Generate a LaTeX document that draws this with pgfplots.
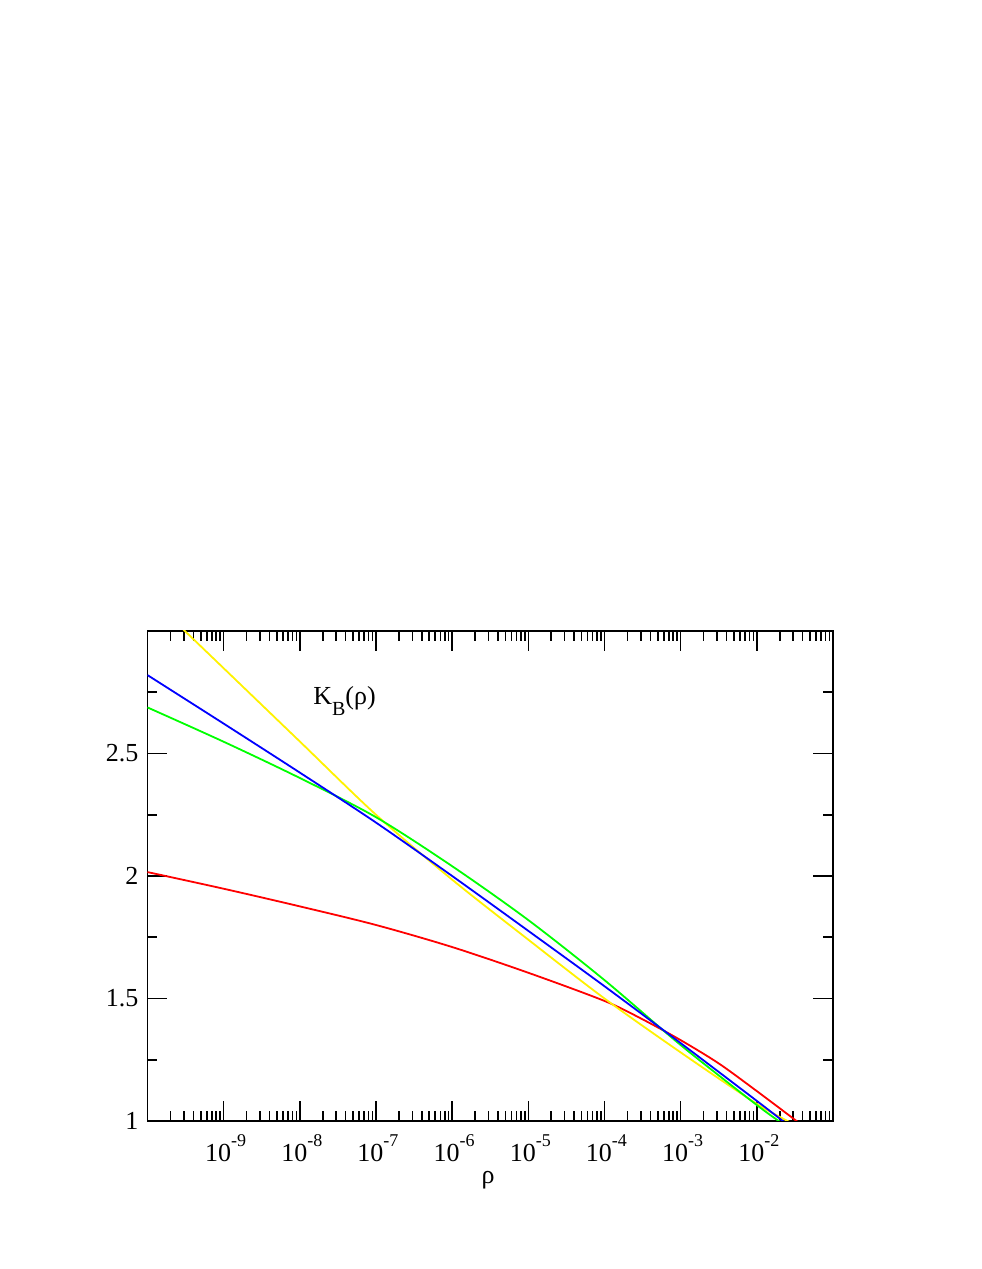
\documentclass[border=0pt]{standalone}
\usepackage{fontspec}
\setmainfont{Liberation Serif}
\usepackage{pgfplots}
\pgfplotsset{compat=1.18}
\newcommand{\dec}[1]{10\raisebox{0.55em}{\fontsize{9}{10}\selectfont #1}}
\begin{document}
\begin{tikzpicture}
\begin{axis}[
  at={(0,0)}, anchor=south west,
  scale only axis,
  width=342.75pt, height=245pt,
  xmode=log,
  xmin=1e-10, xmax=1e-1,
  ymin=1, ymax=3,
  axis line style={line width=0.9pt},
  tick style={line width=0.8pt, black},
  major tick length=10pt,
  minor tick length=5pt,
  tick align=inside,
  xtick={1e-9,1e-8,1e-7,1e-6,1e-5,1e-4,1e-3,1e-2},
  xticklabels={\dec{-9},\dec{-8},\dec{-7},\dec{-6},\dec{-5},\dec{-4},\dec{-3},\dec{-2}},
  minor xtick={2e-10,3e-10,4e-10,5e-10,6e-10,7e-10,8e-10,9e-10,
               2e-9,3e-9,4e-9,5e-9,6e-9,7e-9,8e-9,9e-9,
               2e-8,3e-8,4e-8,5e-8,6e-8,7e-8,8e-8,9e-8,
               2e-7,3e-7,4e-7,5e-7,6e-7,7e-7,8e-7,9e-7,
               2e-6,3e-6,4e-6,5e-6,6e-6,7e-6,8e-6,9e-6,
               2e-5,3e-5,4e-5,5e-5,6e-5,7e-5,8e-5,9e-5,
               2e-4,3e-4,4e-4,5e-4,6e-4,7e-4,8e-4,9e-4,
               2e-3,3e-3,4e-3,5e-3,6e-3,7e-3,8e-3,9e-3,
               2e-2,3e-2,4e-2,5e-2,6e-2,7e-2,8e-2,9e-2},
  ytick={1,1.5,2,2.5,3},
  yticklabels={1,1.5,2,2.5,{}},
  minor ytick={1.25,1.75,2.25,2.75},
  tick label style={font=\fontsize{13}{15}\selectfont},
  xticklabel style={anchor=base, yshift=-20pt, xshift=1pt},
  yticklabel style={xshift=-1pt},
  xlabel={ρ},
  xlabel style={at={(axis description cs:0.497,0)}, anchor=base, yshift=-31pt, font=\fontsize{13}{15}\selectfont},
  every axis plot/.append style={line width=0.9pt, no markers},
  clip=true,
]
\addplot[red, smooth] coordinates {
 (1e-10,2.016) (1e-9,1.948) (1e-8,1.876) (1e-7,1.80) (1e-6,1.71)
 (1e-5,1.605) (1e-4,1.49) (3.162e-4,1.415) (1e-3,1.33) (3.162e-3,1.235) (1e-2,1.122) (3.162e-2,1.005) (3.981e-2,0.98)
};
\addplot[yellow, smooth] coordinates {
 (2.512e-10,3.027) (1e-9,2.848) (1e-8,2.549) (1e-7,2.25) (1e-6,1.985)
 (1e-5,1.74) (1e-4,1.50) (1e-3,1.28) (1e-2,1.07) (3.162e-2,0.985)
};
\addplot[green, smooth] coordinates {
 (1e-10,2.688) (1e-9,2.548) (1e-8,2.40) (1e-7,2.24) (1e-6,2.04)
 (1e-5,1.82) (1e-4,1.575) (1e-3,1.31) (1e-2,1.065) (2.239e-2,0.987)
};
\addplot[blue, smooth] coordinates {
 (1e-10,2.82) (1e-9,2.622) (1e-8,2.422) (1e-7,2.218) (1e-6,2.00)
 (1e-5,1.776) (1e-4,1.55) (1e-3,1.318) (1e-2,1.082) (2.512e-2,0.986)
};
\node[anchor=base west, font=\fontsize{13}{15}\selectfont, inner sep=0pt] at (rel axis cs:0.2414,0.851) {K\raisebox{-5.5pt}{\fontsize{10}{11}\selectfont B}(ρ)};
\end{axis}
\path (-73.75pt,-74pt) rectangle (416.75pt,560.5pt);
\end{tikzpicture}
\end{document}
